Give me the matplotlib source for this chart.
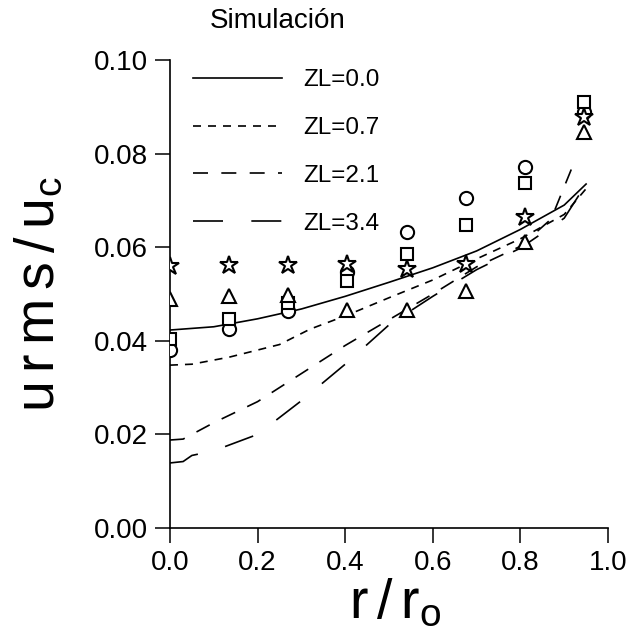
import matplotlib
matplotlib.use("Agg")
import matplotlib.pyplot as plt

plt.rcParams['font.family'] = ['Liberation Sans', 'DejaVu Sans']
plt.rcParams['mathtext.fontset'] = 'custom'
plt.rcParams['mathtext.rm'] = 'Lato:light'

# ---- data ----
r_exp = [0.0, 0.135, 0.27, 0.405, 0.54, 0.675, 0.81, 0.945]
exp_circle = [0.0380, 0.0425, 0.0464, 0.0547, 0.0633, 0.0705, 0.0771, 0.0889]
exp_square = [0.0404, 0.0447, 0.0480, 0.0528, 0.0585, 0.0647, 0.0737, 0.0910]
exp_star = [0.0560, 0.0562, 0.0562, 0.0564, 0.0553, 0.0564, 0.0665, 0.0878]
exp_triangle = [0.0490, 0.0496, 0.0498, 0.0466, 0.0466, 0.0506, 0.0612, 0.0846]

r_zl00 = [0.0, 0.1, 0.2, 0.3, 0.4, 0.5, 0.6, 0.7, 0.8, 0.9, 0.95]
u_zl00 = [0.0423, 0.0430, 0.0447, 0.0468, 0.0495, 0.0525, 0.0556, 0.0592, 0.0638, 0.0690, 0.0735]

r_zl07 = [0.0, 0.05, 0.135, 0.25, 0.32, 0.405, 0.5, 0.6, 0.7, 0.8, 0.9, 0.95]
u_zl07 = [0.0348, 0.0350, 0.0365, 0.0392, 0.0425, 0.0455, 0.0492, 0.0530, 0.0575, 0.0618, 0.0670, 0.0725]

r_zl21 = [0.0, 0.03, 0.1, 0.2, 0.3, 0.4, 0.5, 0.6, 0.7, 0.8, 0.87, 0.92]
u_zl21 = [0.0188, 0.0190, 0.0225, 0.0270, 0.0330, 0.0390, 0.0445, 0.0500, 0.0558, 0.0602, 0.0660, 0.0775]

r_zl34 = [0.0, 0.03, 0.05, 0.1, 0.2, 0.3, 0.4, 0.5, 0.6, 0.7, 0.8, 0.9, 0.95]
u_zl34 = [0.0139, 0.0142, 0.0155, 0.0165, 0.0200, 0.0272, 0.0350, 0.0434, 0.0495, 0.0552, 0.0598, 0.0662, 0.0735]

zl_labels = ['ZL=0.0', 'ZL=0.7', 'ZL=2.1', 'ZL=3.4']
x_ticks = [0.0, 0.2, 0.4, 0.6, 0.8, 1.0]
y_ticks = [0.00, 0.02, 0.04, 0.06, 0.08, 0.10]

# ---- figure ----
fig = plt.figure(figsize=(6.27, 6.35), dpi=100)
ax = fig.add_axes([0.2711, 0.1685, 0.6986, 0.737])

lw = 1.2
l0, = ax.plot(r_zl00, u_zl00, color='black', lw=lw, linestyle='-')
l1, = ax.plot(r_zl07, u_zl07, color='black', lw=lw, dashes=(4.8, 4.2))
l2, = ax.plot(r_zl21, u_zl21, color='black', lw=lw, dashes=(9, 8))
l3, = ax.plot(r_zl34, u_zl34, color='black', lw=lw, dashes=(18, 17))

mk = dict(linestyle='none', markerfacecolor='white', markeredgecolor='black',
          markeredgewidth=1.5, zorder=3)
ax.plot(r_exp, exp_circle, marker='o', markersize=9.5, **mk)
ax.plot(r_exp, exp_square, marker='s', markersize=8.5, **mk)
ax.plot(r_exp, exp_triangle, marker='^', markersize=9.5, **mk)
ax.plot(r_exp, exp_star, marker='*', markersize=13.5, **mk)

ax.set_xlim(0, 1.0)
ax.set_ylim(0, 0.10)
ax.set_xticks(x_ticks)
ax.set_yticks(y_ticks)
ax.set_xticklabels([f'{v:.1f}' for v in x_ticks])
ax.set_yticklabels([f'{v:.2f}' for v in y_ticks])

for s in ['top', 'right']:
    ax.spines[s].set_visible(False)
for s in ['left', 'bottom']:
    ax.spines[s].set_linewidth(1.2)
ax.tick_params(axis='both', direction='out', length=11, width=1.1,
               labelsize=20, pad=5)
ax.patch.set_visible(False)

ax.set_xlabel(r'$\mathregular{r\,/\,r_o}$', fontsize=40, va='top')
ax.xaxis.set_label_coords(0.514, -0.108)
ax.set_ylabel(r'$\mathregular{u\,r\,m\,s\,/\,u_c}$', fontsize=40, va='center')
ax.yaxis.set_label_coords(-0.297, 0.5)

fig.text(0.443, 0.967, 'Simulación', fontsize=20, ha='center', va='center')

ax.legend([l0, l1, l2, l3], zl_labels, loc='upper left',
          bbox_to_anchor=(0.0525, 0.980), frameon=False, fontsize=17.5,
          borderpad=0, borderaxespad=0, handlelength=3.66,
          handletextpad=0.86, labelspacing=1.06)

fig.savefig('out.png', dpi=100)
